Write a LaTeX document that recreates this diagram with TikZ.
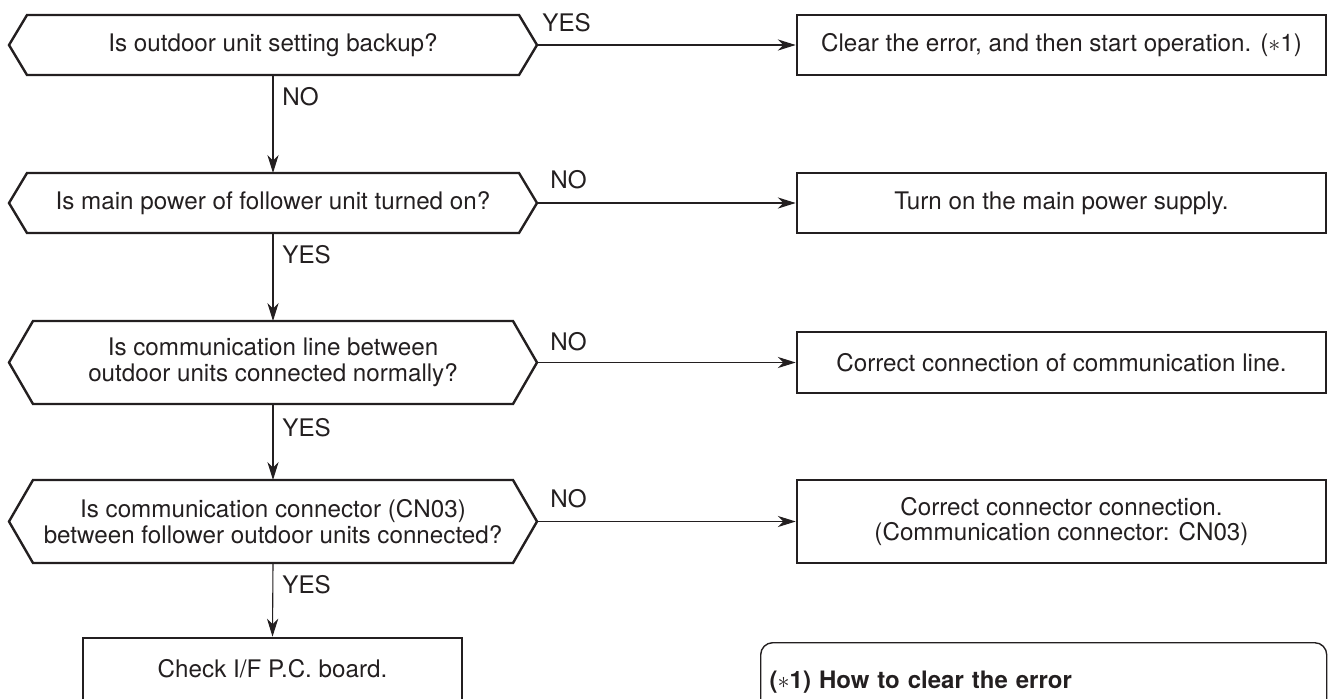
\documentclass[tikz,border=0pt]{standalone}
\usepackage{fontspec}
\setmainfont{TeX Gyre Heros}
\usetikzlibrary{arrows.meta}
\definecolor{ink}{RGB}{35,31,32}
\newcommand{\Fs}{\fontsize{12.1pt}{12.8pt}\selectfont}
\newcommand{\hexa}[2]{%
  \draw[draw=ink, line width=1.2pt]
    ([xshift=#2]#1.north west) -- ([xshift=-#2]#1.north east) -- (#1.east)
    -- ([xshift=-#2]#1.south east) -- ([xshift=#2]#1.south west) -- (#1.west) -- cycle;}

\begin{document}
\begin{tikzpicture}[x=0.5pt, y=-0.5pt,
    ask/.style={rectangle, inner sep=0pt, outer sep=0pt, minimum width=264pt, align=center, text=ink, font=\Fs},
    act/.style={rectangle, draw=ink, line width=1.3pt, minimum width=264.5pt, align=center, text=ink, font=\Fs},
    note/.style={rectangle, draw=ink, line width=0.7pt, rounded corners=6pt, anchor=north west, inner xsep=4.5pt,
                 text width=274pt, minimum height=39pt, align=left, text=ink, font=\fontsize{12pt}{13pt}\selectfont\bfseries},
    flow/.style={-{Stealth[length=9pt, width=5.6pt, inset=2.8pt]}, draw=ink, line width=0.55pt},
    ans/.style={inner sep=0pt, anchor=base west, text=ink, font=\Fs},
  ]
  \useasboundingbox (0,0) rectangle (1328,698);

  % --- questions on the left
  \node[ask, minimum height=30pt]   (q1) at (273,45)    {Is outdoor unit setting backup?};
  \node[ask, minimum height=30pt]   (q2) at (273,203)   {Is main power of follower unit turned on?};
  \node[ask, minimum height=41.5pt] (q3) at (273,362.5) {Is communication line between\\outdoor units connected normally?};
  \node[ask, minimum height=41.5pt] (q4) at (273,521.5) {Is communication connector (CN03)\\between follower outdoor units connected?};
  \hexa{q1}{9pt}
  \hexa{q2}{9pt}
  \hexa{q3}{12pt}
  \hexa{q4}{12pt}

  % --- actions on the right
  \node[act, minimum height=30pt]   (a1) at (1061.5,45)    {Clear the error, and then start operation. ($\ast$1)};
  \node[act, minimum height=30pt]   (a2) at (1061.5,203)   {Turn on the main power supply.};
  \node[act, minimum height=30.5pt] (a3) at (1061.5,362.5) {Correct connection of communication line.};
  \node[act, minimum height=41.5pt] (a4) at (1061.5,521.5) {Correct connector connection.\\(Communication connector: CN03)};
  \node[act, minimum width=189.5pt, minimum height=31pt] (a5) at (272.5,669) {Check I/F P.C. board.};

  % --- footnote box, cut by the page edge
  \node[note] (clr) at (760,642) {($\ast$1) How to clear the error};

  % --- connectors
  \draw[flow] (q1.east) -- (a1.west);
  \draw[flow] (q2.east) -- (a2.west);
  \draw[flow] (q3.east) -- (a3.west);
  \draw[flow] (q4.east) -- (a4.west);
  \draw[flow] (q1.south) -- (q2.north);
  \draw[flow] (q2.south) -- (q3.north);
  \draw[flow] (q3.south) -- (q4.north);
  \draw[flow] (q4.south) -- (a5.north);

  \node[ans] (y1) at (542,31.5)  {YES};
  \node[ans] (n2) at (550,188.5) {NO};
  \node[ans] (n3) at (550,350.5) {NO};
  \node[ans] (n4) at (550,507.5) {NO};
  \node[ans] (n1) at (282,105.5) {NO};
  \node[ans] (y2) at (282,263.5) {YES};
  \node[ans] (y3) at (282,436.5) {YES};
  \node[ans] (y4) at (282,593.5) {YES};

\end{tikzpicture}
\end{document}
